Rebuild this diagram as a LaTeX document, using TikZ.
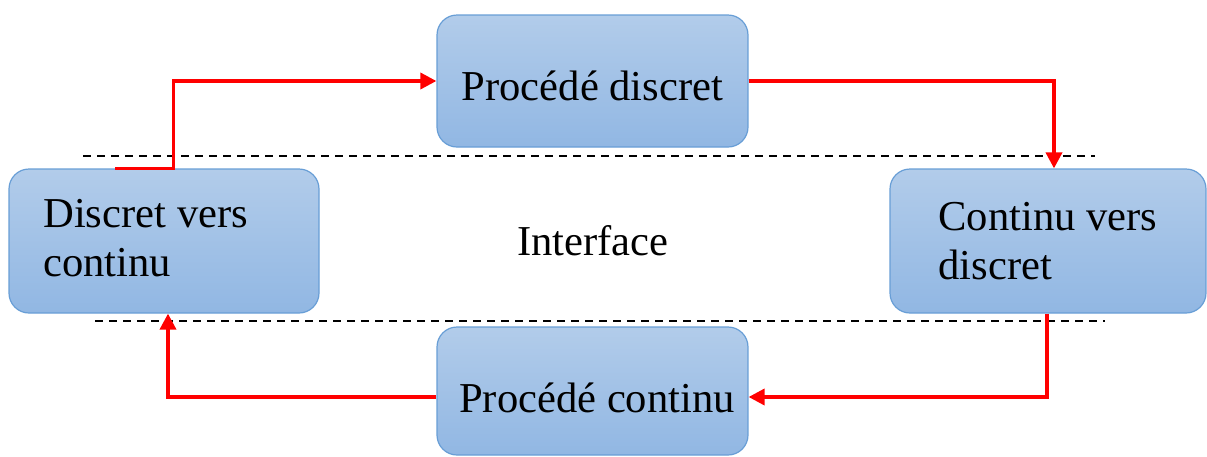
\documentclass[tikz,border=0pt]{standalone}
\usepackage{fontspec}
\setmainfont{Liberation Serif}
\usetikzlibrary{arrows.meta,calc}
\definecolor{boxtop}{RGB}{178,204,234}
\definecolor{boxbot}{RGB}{145,183,227}
\definecolor{boxline}{RGB}{104,158,214}
\tikzset{
  box/.style={rectangle, rounded corners=10pt, draw=boxline, line width=0.6pt,
    top color=boxtop, bottom color=boxbot, inner sep=0pt},
  lbl/.style={inner sep=0pt, font=\fontsize{21.3}{24.5}\selectfont},
  flow/.style={draw=red, line width=1.8pt, -{Triangle[length=8pt,width=8pt]}},
  sep/.style={draw=black, line width=0.7pt, dash pattern=on 4pt off 3pt},
}
\begin{document}
\begin{tikzpicture}[x=0.5pt,y=-0.5pt]
\useasboundingbox (0,0) rectangle (1207,456);

% interface boundaries
\draw[sep] (83,156) -- (1095,156);
\draw[sep] (95,321) -- (1105,321);

% the four blocks
\node[box, minimum width=155pt, minimum height=72pt] (dvc) at (164,241) {};
\node[box, minimum width=158pt, minimum height=72pt] (cvd) at (1048,241) {};
\node[box, minimum width=155.5pt, minimum height=66pt] (pd) at (592.5,81) {};
\node[box, minimum width=155.5pt, minimum height=64pt] (pc) at (592.5,391) {};

% labels (multi-line ones are anchored on their last baseline)
\node[lbl, anchor=base] (pdt) at (592.5,100) {Procédé discret};
\node[lbl, anchor=base] (pct) at (597,412) {Procédé continu};
\node[lbl, anchor=base] (itf) at (593,255) {Interface};
\node[lbl, anchor=base west, align=left] (dvct) at (43,276) {Discret vers\\continu};
\node[lbl, anchor=base west, align=left] (cvdt) at (938,279) {Continu vers\\discret};

% flow between blocks
\draw[flow] ([xshift=53.5pt]dvc.north west) -- ([xshift=82.5pt]dvc.north west) |- (pd.west);
\draw[flow] (pd.east) -| ([xshift=3pt]cvd.north);
\draw[flow] ([xshift=-0.5pt]cvd.south) |- ([yshift=-3pt]pc.east);
\draw[flow] ([yshift=-3pt]pc.west) -| ([xshift=2pt]dvc.south);
\end{tikzpicture}
\end{document}
